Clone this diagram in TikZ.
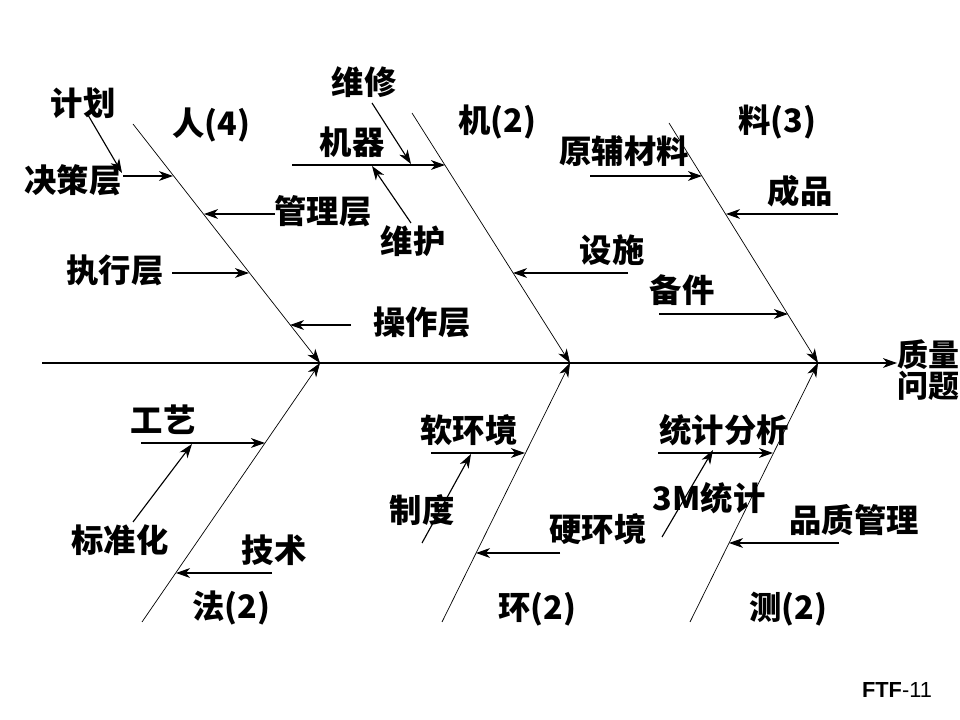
\documentclass[tikz,border=0pt]{standalone}
\usepackage{fontspec}
\setmainfont{Noto Sans CJK SC}
\newfontfamily\latinsans{Liberation Sans}
\usepackage{tikz}
\usetikzlibrary{arrows.meta}

\begin{document}
\begin{tikzpicture}[
  x=0.025cm, y=-0.025cm,
  lab/.style={font=\fontsize{23}{26}\selectfont\bfseries, inner sep=0pt},
  bone/.style={-{Stealth[length=10pt,width=7pt,inset=3pt]}, line width=0.5pt},
  arrow/.style={-{Stealth[length=10pt,width=7pt,inset=3pt]}, line width=0.8pt}
]
\useasboundingbox (0,0) rectangle (960,720);

% spine
\coordinate (spS) at (42,363);
\node[lab, anchor=west, align=center, font=\fontsize{22}{19}\selectfont\bfseries] (wenti) at (897,370) {质量\\问题};
\draw[arrow] (spS) -- (spS -| wenti.west);

% main bones
\coordinate (renT) at (133,124);  \coordinate (renH) at (320,363);
\coordinate (jiT) at (412,113);   \coordinate (jiH) at (570,363);
\coordinate (liaoT) at (669,123); \coordinate (liaoH) at (818,363);
\coordinate (faB) at (142,622);   \coordinate (faH) at (320,363);
\coordinate (huanB) at (442,622); \coordinate (huanH) at (570,363);
\coordinate (ceB) at (690,622);   \coordinate (ceH) at (818,363);
\foreach \a/\b in {renT/renH,jiT/jiH,liaoT/liaoH,faB/faH,huanB/huanH,ceB/ceH}
  \draw[bone] (\a) -- (\b);

% bone titles
\node[lab] (ren) at (211,125) {人(4)};
\node[lab] (ji) at (497,122) {机(2)};
\node[lab] (liao) at (777,122) {料(3)};
\node[lab] (fa) at (231,608) {法(2)};
\node[lab] (huan) at (537,609) {环(2)};
\node[lab] (ce) at (788,609) {测(2)};

% causes
\node[lab] (jihua) at (83,103) {计划};
\node[lab] (juece) at (73,180) {决策层};
\node[lab] (guanli) at (323,211) {管理层};
\node[lab] (zhixing) at (115,270) {执行层};
\node[lab] (caozuo) at (422,322) {操作层};
\node[lab] (weixiu) at (364,82) {维修};
\node[lab] (jiqi) at (352,142) {机器};
\node[lab] (weihu) at (413,241) {维护};
\node[lab] (sheshi) at (612,250) {设施};
\node[lab] (yuanfu) at (624,151) {原辅材料};
\node[lab] (chengpin) at (800,191) {成品};
\node[lab] (beijian) at (682,290) {备件};
\node[lab] (gongyi) at (163,420) {工艺};
\node[lab] (biaozhun) at (120,540) {标准化};
\node[lab] (jishu) at (274,550) {技术};
\node[lab] (ruan) at (469,430) {软环境};
\node[lab] (zhidu) at (422,510) {制度};
\node[lab] (ying) at (598,529) {硬环境};
\node[lab] (tongji) at (724,430) {统计分析};
\node[lab] (sanm) at (709,498) {3M统计};
\node[lab] (pinzhi) at (854,520) {品质管理};

% arrow ends
\coordinate (a1) at (123,176);  \coordinate (b1) at (173,176);
\coordinate (a2) at (88,115);   \coordinate (b2) at (122,173);
\coordinate (a3) at (275,214);  \coordinate (b3) at (204,214);
\coordinate (a4) at (172,273);  \coordinate (b4) at (249,273);
\coordinate (a5) at (351,325);  \coordinate (b5) at (290,325);
\coordinate (a6) at (292,165);  \coordinate (b6) at (445,165);
\coordinate (a7) at (372,103);  \coordinate (b7) at (411,164);
\coordinate (a8) at (411,223);  \coordinate (b8) at (372,166);
\coordinate (a9) at (628,273);  \coordinate (b9) at (513,273);
\coordinate (a10) at (590,176); \coordinate (b10) at (702,176);
\coordinate (a11) at (838,214); \coordinate (b11) at (726,214);
\coordinate (a12) at (659,314); \coordinate (b12) at (788,314);
\coordinate (a13) at (141,443); \coordinate (b13) at (265,443);
\coordinate (a14) at (133,522); \coordinate (b14) at (192,444);
\coordinate (a15) at (272,573); \coordinate (b15) at (176,573);
\coordinate (a16) at (431,453); \coordinate (b16) at (525,453);
\coordinate (a17) at (422,543); \coordinate (b17) at (471,454);
\coordinate (a18) at (560,553); \coordinate (b18) at (476,553);
\coordinate (a19) at (658,453); \coordinate (b19) at (773,453);
\coordinate (a20) at (662,537); \coordinate (b20) at (713,450);
\coordinate (a21) at (839,543); \coordinate (b21) at (729,543);
\foreach \i in {1,...,21}
  \draw[arrow] (a\i) -- (b\i);

\node[inner sep=0pt, font=\latinsans\fontsize{15.5}{17}\selectfont] (ftf) at (897,690) {\textbf{FTF}-11};
\end{tikzpicture}
\end{document}
